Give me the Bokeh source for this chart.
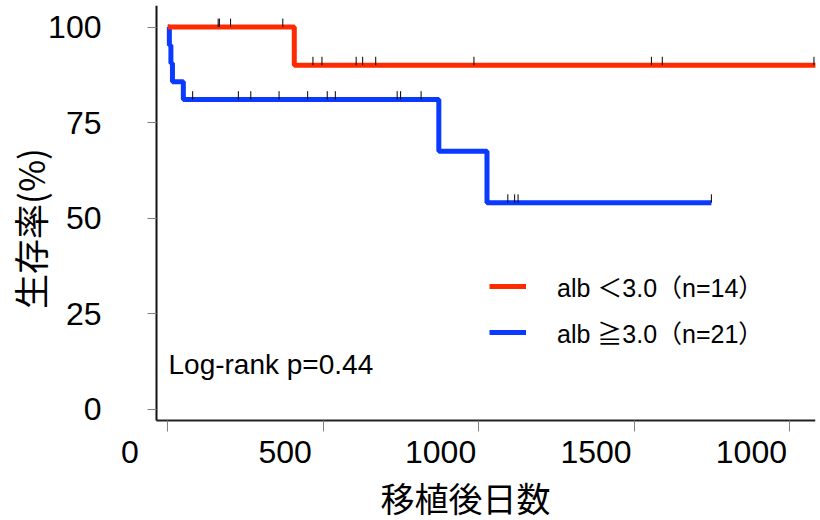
import math
from bokeh.plotting import figure
from bokeh.models import (Range1d, FixedTicker, Label, LabelSet, Legend, LegendItem,
                          ColumnDataSource, CustomJSTickFormatter)
from bokeh.embed import file_html
from bokeh.resources import INLINE
from bokeh.core.properties import value

# ---- data ----
red_times = [0, 407, 2085]
red_surv = [100, 90, 90]
red_censor_t = [162, 166, 202, 370, 467, 496, 606, 627, 669, 985, 1556, 1591, 2079]
red_censor_s = [100, 100, 100, 100, 90, 90, 90, 90, 90, 90, 90, 90, 90]

blue_times = [0, 5, 10, 15, 50, 872, 1027, 1749]
blue_surv = [100, 95.2, 90.5, 85.7, 81.0, 67.5, 54.0, 54.0]
blue_censor_t = [80, 227, 267, 358, 450, 513, 539, 738, 749, 815, 1094, 1116, 1127, 1749]
blue_censor_s = [81.0] * 10 + [54.0] * 4

x_ticks = [0, 500, 1000, 1500, 2000]
x_tick_labels = ["0", "500", "1000", "1500", "1000"]
y_ticks = [0, 25, 50, 75, 100]
y_tick_labels = ["0", "25", "50", "75", "100"]

red_label = "alb ＜3.0（n=14）"
blue_label = "alb ≧3.0（n=21）"
x_title = "移植後日数"
y_title = "生存率(%)"
note = "Log-rank p=0.44"

RED = "#ff2a00"
BLUE = "#0a3aff"
LATIN = "Liberation Sans"
CJK = "Noto Sans CJK JP"
MIXED = "Liberation Sans, Noto Sans CJK JP"

# ---- layout (pixel geometry of the reference) ----
W, H = 820, 520
FR_L, FR_R, FR_T, FR_B = 0, 815, 5, 520      # plotting frame on the canvas
PX0, SX = 167.3, 0.3108                      # canvas x of day 0, px per day
PY0, SY = 408.5, 3.82                        # canvas y of 0 %, px per %


def dx(px):
    return (px - PX0) / SX


def dy(py):
    return (PY0 - py) / SY


X_AX = dx(156)   # where the y axis line sits
Y_AX = dy(420)   # where the x axis line sits

p = figure(width=W, height=H, output_backend="svg", toolbar_location=None,
           x_range=Range1d(dx(FR_L), dx(FR_R)), y_range=Range1d(dy(FR_B), dy(FR_T)),
           x_axis_location="above", y_axis_location="right",
           min_border_left=FR_L, min_border_right=W - FR_R,
           min_border_top=FR_T, min_border_bottom=H - FR_B)
p.outline_line_color = None
p.xgrid.visible = False
p.ygrid.visible = False

blank = CustomJSTickFormatter(code="return ''")

# x axis: line + downward ticks at the bottom of the data area
xa = p.xaxis[0]
xa.fixed_location = Y_AX
xa.bounds = (X_AX, dx(820))
xa.ticker = FixedTicker(ticks=x_ticks)
xa.formatter = blank
xa.major_label_text_font_size = "1px"
xa.major_label_standoff = 0
xa.axis_line_width = 2
xa.axis_line_color = "#222222"
xa.major_tick_in = 11
xa.major_tick_out = 0
xa.major_tick_line_color = "#808080"
xa.minor_tick_in = 0
xa.minor_tick_out = 0

# y axis: line + leftward ticks
ya = p.yaxis[0]
ya.fixed_location = X_AX
ya.bounds = (Y_AX, dy(FR_T))
ya.ticker = FixedTicker(ticks=y_ticks)
ya.formatter = blank
ya.major_label_text_font_size = "1px"
ya.major_label_standoff = 0
ya.axis_line_width = 2
ya.axis_line_color = "#111111"
ya.major_tick_in = 9
ya.major_tick_out = 0
ya.major_tick_line_color = "#808080"
ya.minor_tick_in = 0
ya.minor_tick_out = 0

# curves
blue_r = p.step(x=blue_times, y=blue_surv, mode="after", line_width=5, line_color=BLUE)
red_r = p.step(x=red_times, y=red_surv, mode="after", line_width=5, line_color=RED)

# censor marks
p.segment(x0=red_censor_t, y0=red_censor_s, x1=red_censor_t,
          y1=[s + 2.2 for s in red_censor_s], line_color="black", line_width=1)
p.segment(x0=blue_censor_t, y0=blue_censor_s, x1=blue_censor_t,
          y1=[s + 2.2 for s in blue_censor_s], line_color="black", line_width=1)

# tick labels
xsrc = ColumnDataSource(dict(x=x_ticks, t=x_tick_labels))
p.add_layout(LabelSet(x="x", y=dy(451), text="t", source=xsrc, x_offset=-38,
                      text_align="center", text_baseline="middle",
                      text_font=value(LATIN), text_font_size=value("32px"),
                      text_color="black"))
ysrc = ColumnDataSource(dict(y=y_ticks, t=y_tick_labels))
p.add_layout(LabelSet(x=X_AX, y="y", text="t", source=ysrc, x_offset=-55,
                      text_align="right", text_baseline="middle",
                      text_font=value(LATIN), text_font_size=value("32px"),
                      text_color="black"))

# axis titles
p.add_layout(Label(x=dx(465), y=dy(499), text=x_title, text_align="center",
                   text_baseline="middle", text_font=MIXED, text_font_size="34px",
                   text_color="black"))
p.add_layout(Label(x=dx(29), y=dy(228), text=y_title, angle=math.pi / 2,
                   text_align="center", text_baseline="middle", text_font=CJK,
                   text_font_size="35px", text_color="black"))

# note
p.add_layout(Label(x=dx(168), y=dy(364), text=note, text_align="left",
                   text_baseline="middle", text_font=LATIN, text_font_size="28px",
                   text_color="black"))

# legend
legend = Legend(items=[LegendItem(label=red_label, renderers=[red_r]),
                       LegendItem(label=blue_label, renderers=[blue_r])],
                location=(489 - FR_L, FR_B - 350), glyph_width=37, glyph_height=26,
                label_height=26, label_standoff=31, spacing=10, padding=0, margin=0,
                border_line_color=None, background_fill_alpha=0,
                label_text_font=MIXED, label_text_font_size="25px",
                label_text_color="black")
p.add_layout(legend)

open("out.html", "w").write(file_html(p, INLINE))
